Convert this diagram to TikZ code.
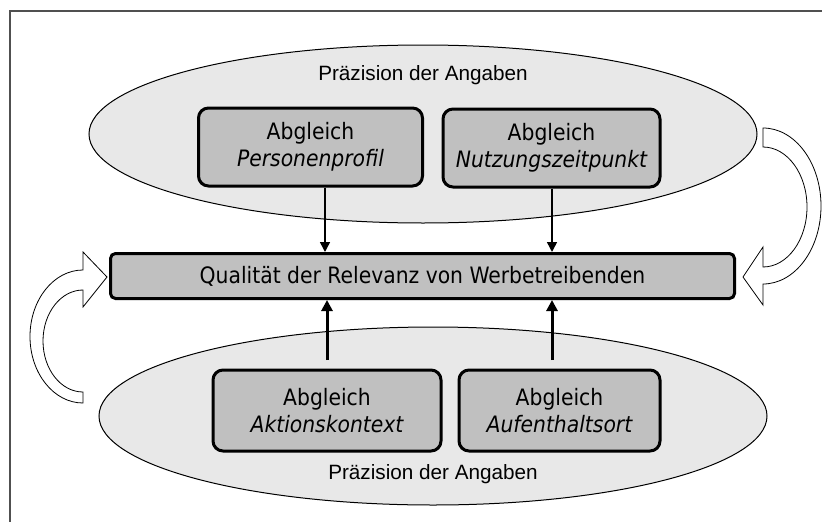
\documentclass[tikz,border=0pt]{standalone}
\usepackage{fontspec}
\setmainfont{Liberation Sans}
\newfontfamily\boxfont{DejaVu Sans Condensed}
\usetikzlibrary{shapes.geometric,arrows.meta}
\definecolor{boxgray}{HTML}{C0C0C0}
\definecolor{ellgray}{HTML}{E8E8E8}
\definecolor{framegray}{HTML}{505050}
\tikzset{
  ell/.style={ellipse, draw=black, line width=1pt, fill=ellgray, inner sep=0pt, minimum width=668pt, minimum height=178pt},
  abox/.style={draw=black, line width=3pt, fill=boxgray, rounded corners=10pt, minimum width=224pt, minimum height=78pt, align=center, font=\boxfont\fontsize{22.6}{27}\selectfont},
  bar/.style={draw=black, line width=3pt, fill=boxgray, rounded corners=5pt, minimum width=624pt, minimum height=45pt, font=\boxfont\fontsize{22.6}{26}\selectfont},
  lbl/.style={font=\fontsize{20.7}{24}\selectfont},
  downarr/.style={line width=1.5pt, -{Triangle[length=10pt,width=10pt]}},
  uparr/.style={line width=3pt, -{Triangle[length=11pt,width=11pt]}},
  blockarr/.style={draw=black, line width=0.8pt, fill=white, line join=miter},
}
\begin{document}
\begin{tikzpicture}[x=1pt,y=-1pt]
\useasboundingbox (0,0) rectangle (822,522);
% frame
\draw[framegray, line width=1.5pt] (10,522) -- (10,11) -- (822,11);
% curved block arrows
\draw[blockarr] (83,403) arc[start angle=270, end angle=90, x radius=53pt, y radius=66.5pt]
  -- (83,252) -- (107,277) -- (83,307) -- (83,290)
  arc[start angle=90, end angle=270, x radius=40pt, y radius=51pt] -- cycle;
\draw[blockarr] (763,128) arc[start angle=90, end angle=-90, x radius=58pt, y radius=78pt]
  -- (763,305) -- (743,277) -- (763,247) -- (763,267)
  arc[start angle=-90, end angle=90, x radius=44pt, y radius=60pt] -- cycle;
% ellipses
\node[ell] (topell) at (423,134) {};
\node[ell] (botell) at (433,416) {};
\node[lbl] (toplbl) at (423,75) {Präzision der Angaben};
\node[lbl] (botlbl) at (433,474) {Präzision der Angaben};
% boxes
\node[abox] (pp) at (310.5,147) {Abgleich\\\itshape Personenprofil};
\node[abox, minimum width=217pt] (nz) at (551.5,148) {Abgleich\\\itshape Nutzungszeitpunkt};
\node[abox, minimum width=228pt, minimum height=81pt] (ak) at (327,410.5) {Abgleich\\\itshape Aktionskontext};
\node[abox, minimum width=201pt, minimum height=81pt] (ao) at (559.5,410.5) {Abgleich\\\itshape Aufenthaltsort};
\node[bar] (q) at (422.5,276) {Qualität der Relevanz von Werbetreibenden};
% arrows
\draw[downarr] (pp.south -| 325,0) -- (q.north -| 325,0);
\draw[downarr] (nz.south -| 552,0) -- (q.north -| 552,0);
\coordinate (a1) at (327,360);
\coordinate (a2) at (552,360);
\draw[uparr] (a1) -- (q.south -| a1);
\draw[uparr] (a2) -- (q.south -| a2);
\end{tikzpicture}
\end{document}
